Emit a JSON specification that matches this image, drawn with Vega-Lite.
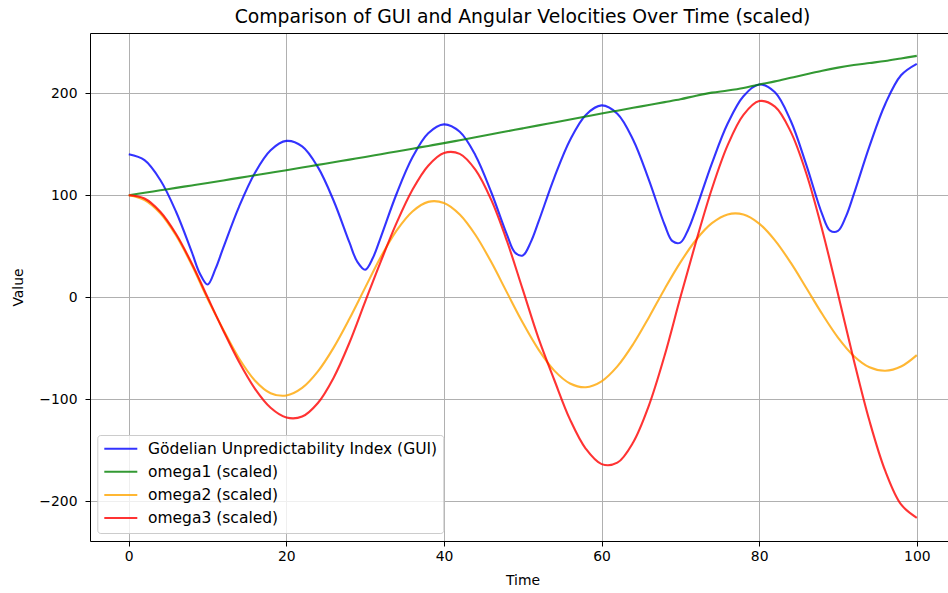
{
  "$schema": "https://vega.github.io/schema/vega-lite/v6.json",
  "width": 858,
  "height": 508,
  "autosize": {"type": "none"},
  "padding": {"left": 90, "top": 33, "right": 0, "bottom": 52},
  "background": "white",
  "title": {"text": "Comparison of GUI and Angular Velocities Over Time (scaled)", "font": "DejaVu Sans", "fontSize": 18.8, "fontWeight": "normal", "color": "black", "anchor": "middle", "dx": 3.5, "offset": 6},
  "config": {
    "font": "DejaVu Sans",
    "view": {"stroke": null},
    "axis": {"labelFont": "DejaVu Sans", "labelFontSize": 13.9, "labelColor": "black", "titleFont": "DejaVu Sans", "titleFontSize": 13.9, "titleFontWeight": "normal", "titleColor": "black", "tickColor": "black", "tickSize": 5, "tickWidth": 1, "domainColor": "black", "domainWidth": 1, "gridColor": "#b0b0b0", "gridWidth": 1},
    "legend": {"orient": "none", "legendX": 7.3, "legendY": 402, "symbolType": "stroke", "symbolSize": 1089, "symbolStrokeWidth": 2, "symbolOpacity": 0.8, "clipHeight": 15.5, "rowPadding": 6.1, "padding": 6, "labelOffset": 9.7, "labelFont": "DejaVu Sans", "labelFontSize": 15.5, "labelColor": "black", "labelLimit": 400, "fillColor": "rgba(255,255,255,0.8)", "strokeColor": "#cccccc", "cornerRadius": 3}
  },
  "data": {"values": [
    {"t": 0, "gui": 140.1, "omega1": 100, "omega2": 100, "omega3": 100},
    {"t": 2, "gui": 134.3, "omega1": 102.4, "omega2": 95.3, "omega3": 96.8},
    {"t": 4, "gui": 114.9, "omega1": 104.8, "omega2": 82.3, "omega3": 83.8},
    {"t": 6, "gui": 83.8, "omega1": 107.2, "omega2": 60.5, "omega3": 62.0},
    {"t": 8, "gui": 44.3, "omega1": 109.6, "omega2": 31.6, "omega3": 33.1},
    {"t": 9, "gui": 23.6},
    {"t": 10, "gui": 12.5, "omega1": 112, "omega2": -1.5, "omega3": 0},
    {"t": 11, "gui": 27.8},
    {"t": 12, "gui": 48.7, "omega1": 114.5, "omega2": -31.8, "omega3": -32.7},
    {"t": 14, "gui": 88.9, "omega1": 117, "omega2": -59.9, "omega3": -63.4},
    {"t": 16, "gui": 121.8, "omega1": 119.5, "omega2": -81.4, "omega3": -89.4},
    {"t": 18, "gui": 144.1, "omega1": 122, "omega2": -93.9, "omega3": -108.2},
    {"t": 20, "gui": 153.2, "omega1": 124.5, "omega2": -96.2, "omega3": -117.7},
    {"t": 22, "gui": 147.9, "omega1": 127.1, "omega2": -88.8, "omega3": -116.8},
    {"t": 24, "gui": 127.5, "omega1": 129.7, "omega2": -72.6, "omega3": -103.5},
    {"t": 26, "gui": 94.6, "omega1": 132.3, "omega2": -49.3, "omega3": -78.7},
    {"t": 28, "gui": 53.7, "omega1": 134.9, "omega2": -21.1, "omega3": -44.5},
    {"t": 29, "gui": 34.8},
    {"t": 30, "gui": 27.0, "omega1": 137.5, "omega2": 9.5, "omega3": -4.2},
    {"t": 31, "gui": 39.0},
    {"t": 32, "gui": 59.3, "omega1": 140.2, "omega2": 39.7, "omega3": 35.5},
    {"t": 34, "gui": 101.7, "omega1": 142.9, "omega2": 65.5, "omega3": 73.1},
    {"t": 36, "gui": 137.1, "omega1": 145.6, "omega2": 84.1, "omega3": 105.3},
    {"t": 38, "gui": 160.7, "omega1": 148.3, "omega2": 93.5, "omega3": 128.9},
    {"t": 40, "gui": 169.4, "omega1": 151, "omega2": 92.4, "omega3": 141.3},
    {"t": 42, "gui": 162.1, "omega1": 153.9, "omega2": 81.1, "omega3": 140.5},
    {"t": 44, "gui": 139.0, "omega1": 156.8, "omega2": 61.0, "omega3": 124.8},
    {"t": 46, "gui": 102.9, "omega1": 159.7, "omega2": 34.5, "omega3": 95.4},
    {"t": 48, "gui": 61.1, "omega1": 162.6, "omega2": 4.6, "omega3": 54.9},
    {"t": 49, "gui": 44.0},
    {"t": 50, "gui": 41.0, "omega1": 165.5, "omega2": -24.9, "omega3": 7.5},
    {"t": 51, "gui": 53.8},
    {"t": 52, "gui": 74.1, "omega1": 168.4, "omega2": -51.2, "omega3": -40.2},
    {"t": 54, "gui": 117.3, "omega1": 171.3, "omega2": -71.8, "omega3": -81.0},
    {"t": 56, "gui": 154.1, "omega1": 174.2, "omega2": -84.4, "omega3": -119.8},
    {"t": 58, "gui": 178.7, "omega1": 177.1, "omega2": -88.1, "omega3": -148.4},
    {"t": 60, "gui": 188.0, "omega1": 180, "omega2": -82.3, "omega3": -163.4},
    {"t": 62, "gui": 179.9, "omega1": 182.8, "omega2": -67.7, "omega3": -162.0},
    {"t": 64, "gui": 154.4, "omega1": 185.6, "omega2": -46.0, "omega3": -142.2},
    {"t": 66, "gui": 115.1, "omega1": 188.4, "omega2": -19.7, "omega3": -106.1},
    {"t": 68, "gui": 71.1, "omega1": 191.2, "omega2": 8.2, "omega3": -57.0},
    {"t": 69, "gui": 55.0},
    {"t": 70, "gui": 53.6, "omega1": 194, "omega2": 34.2, "omega3": 0},
    {"t": 71, "gui": 66.5},
    {"t": 72, "gui": 86.7, "omega1": 197.5, "omega2": 56.4, "omega3": 54.9},
    {"t": 74, "gui": 131.2, "omega1": 200.5, "omega2": 72.6, "omega3": 106.3},
    {"t": 76, "gui": 170.2, "omega1": 202.5, "omega2": 81.2, "omega3": 149.0},
    {"t": 78, "gui": 197.0, "omega1": 205, "omega2": 81.1, "omega3": 178.7},
    {"t": 80, "gui": 208.4, "omega1": 208.5, "omega2": 72.2, "omega3": 192.2},
    {"t": 82, "gui": 200.8, "omega1": 211.5, "omega2": 55.8, "omega3": 186.8},
    {"t": 84, "gui": 172.9, "omega1": 215, "omega2": 33.9, "omega3": 162.3},
    {"t": 86, "gui": 129.2, "omega1": 218.5, "omega2": 8.9, "omega3": 120.8},
    {"t": 88, "gui": 81.2, "omega1": 222, "omega2": -16.4, "omega3": 66.0},
    {"t": 89, "gui": 65.3},
    {"t": 90, "gui": 65.0, "omega1": 225, "omega2": -39.4, "omega3": 3.3},
    {"t": 91, "gui": 79.0},
    {"t": 92, "gui": 100.8, "omega1": 227.5, "omega2": -57.4, "omega3": -61.3},
    {"t": 94, "gui": 148.1, "omega1": 229.5, "omega2": -68.5, "omega3": -121.2},
    {"t": 96, "gui": 189.4, "omega1": 231.5, "omega2": -71.9, "omega3": -170.1},
    {"t": 98, "gui": 217.5, "omega1": 234, "omega2": -67.8, "omega3": -202.9},
    {"t": 100, "gui": 228.7, "omega1": 236.5, "omega2": -56.6, "omega3": -216}
  ]},
  "transform": [
    {"fold": ["gui", "omega1", "omega2", "omega3"], "as": ["series", "value"]},
    {"filter": "isValid(datum.value)"}
  ],
  "layer": [
    {
      "mark": {"type": "line", "strokeWidth": 2.1, "opacity": 0.8, "interpolate": "catmull-rom"},
      "encoding": {
        "x": {"field": "t", "type": "quantitative", "scale": {"domain": [-4.92, 103.96], "nice": false, "zero": false},
          "axis": {"orient": "bottom", "values": [0, 20, 40, 60, 80, 100], "format": "d", "title": "Time", "titleX": 432.5, "titleY": 39, "titleAlign": "center", "titleBaseline": "middle", "labelPadding": 3.5, "grid": true, "domain": true}},
        "y": {"field": "value", "type": "quantitative", "scale": {"domain": [-238.7, 258.9], "nice": false, "zero": false},
          "axis": {"orient": "left", "values": [-200, -100, 0, 100, 200], "format": "d", "title": "Value", "titleAngle": -90, "titleX": -71.7, "titleY": 254, "titleAlign": "center", "titleBaseline": "middle", "labelPadding": 8, "grid": true, "domain": true}},
        "color": {"field": "series", "type": "nominal",
          "scale": {"domain": ["gui", "omega1", "omega2", "omega3"], "range": ["blue", "green", "orange", "red"]},
          "legend": {"title": null, "labelExpr": "datum.value == 'gui' ? 'Gödelian Unpredictability Index (GUI)' : datum.value + ' (scaled)'"}}
      }
    },
    {
      "mark": {"type": "line", "strokeOpacity": 0, "interpolate": "catmull-rom"},
      "encoding": {
        "x": {"field": "t", "type": "quantitative", "axis": {"orient": "top", "labels": false, "ticks": false, "grid": false, "title": null, "domain": true}},
        "y": {"field": "value", "type": "quantitative",
          "axis": {"orient": "left", "values": [-200, -100, 0, 100, 200], "format": "d", "title": "Value", "titleAngle": -90, "titleX": -71.7, "titleY": 254, "titleAlign": "center", "titleBaseline": "middle", "labelPadding": 8, "grid": true, "domain": true}},
        "detail": {"field": "series", "type": "nominal"}
      }
    }
  ]
}
